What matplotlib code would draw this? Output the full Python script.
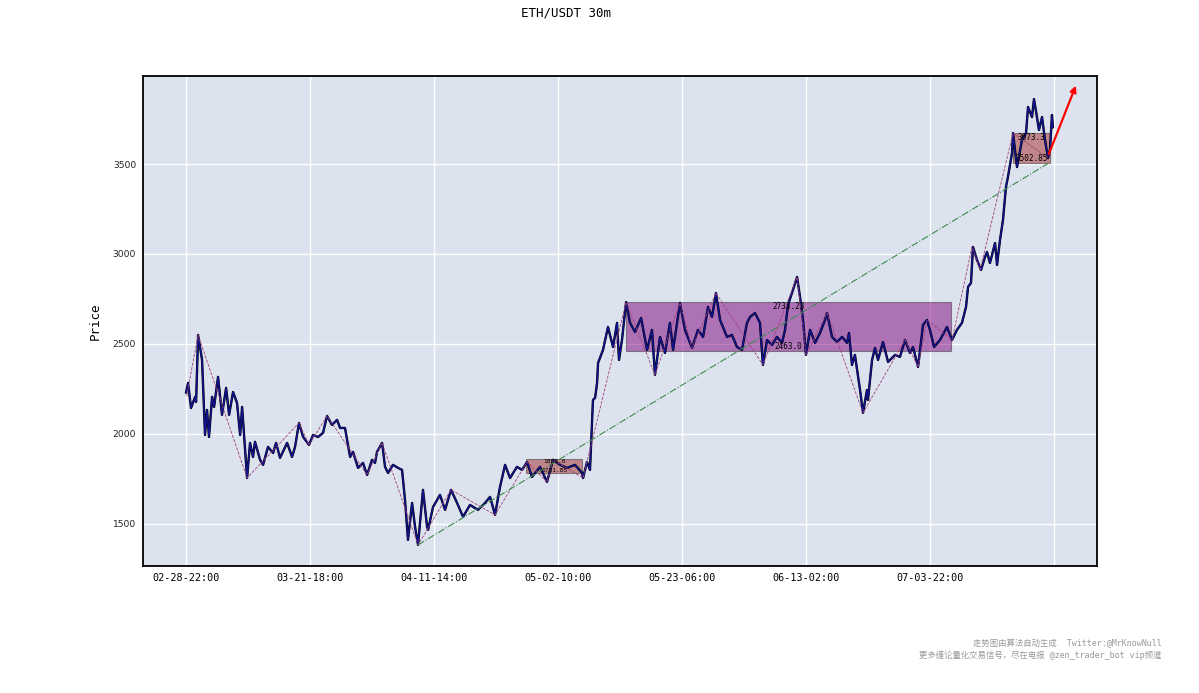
import numpy as np
import matplotlib
matplotlib.use("Agg")
import matplotlib.pyplot as plt
from matplotlib.patches import Rectangle

# 30m bars, x = bar index
bar_idx = [0, 16, 40, 73, 81, 97, 129, 153, 169, 185, 210, 226, 258, 290, 323, 347, 379, 411,
           436, 452, 492, 516, 540, 556, 597, 621, 661, 702, 726, 758, 815, 855, 879, 911,
           944, 992, 1024, 1065, 1105, 1137, 1177, 1218, 1242, 1282, 1323, 1347, 1387,
           1427, 1460, 1500, 1524, 1540, 1581, 1605, 1629, 1669, 1710, 1742, 1766, 1790,
           1823, 1847, 1871, 1911, 1944, 1952, 1992, 2048, 2089, 2137, 2186, 2234, 2290,
           2355, 2411, 2452, 2492, 2532, 2573, 2613, 2669, 2710, 2750, 2790, 2855, 2911,
           2960, 3016, 3073, 3137, 3194, 3202, 3234, 3258, 3282, 3299, 3315, 3323, 3363,
           3403, 3444, 3476, 3492, 3516, 3549, 3581, 3621, 3670, 3718, 3758, 3782, 3823,
           3863, 3903, 3928, 3984, 4024, 4081, 4129, 4170, 4210, 4242, 4274, 4307, 4363,
           4403, 4444, 4484, 4524, 4549, 4589, 4629, 4653, 4686, 4726, 4766, 4807, 4831,
           4855, 4895, 4928, 4952, 4976, 5000, 5033, 5073, 5113, 5153, 5170, 5210, 5250,
           5291, 5331, 5347, 5371, 5395, 5436, 5460, 5492, 5500, 5533, 5557, 5581, 5621,
           5662, 5718, 5758, 5799, 5839, 5863, 5904, 5944, 5976, 6000, 6033, 6081, 6137,
           6178, 6218, 6258, 6291, 6307, 6331, 6347, 6379, 6412, 6444, 6460, 6484, 6525,
           6541, 6565, 6589, 6613, 6629, 6662, 6670, 6702, 6742, 6775, 6791, 6823, 6839,
           6863, 6879, 6904, 6928, 6952, 6968, 6984, 6992]
close = [2230, 2283, 2144, 2206, 2178, 2550, 2411, 1994, 2133, 1983, 2206, 2150, 2317, 2106,
         2256, 2106, 2233, 2172, 1994, 2150, 1755, 1950, 1872, 1956, 1856, 1828, 1928, 1894,
         1950, 1867, 1950, 1872, 1928, 2061, 1983, 1939, 1994, 1983, 2006, 2100, 2050, 2078,
         2033, 2033, 1872, 1900, 1811, 1839, 1772, 1856, 1839, 1900, 1950, 1817, 1783, 1828,
         1811, 1800, 1633, 1411, 1616, 1483, 1383, 1689, 1483, 1467, 1594, 1661, 1578, 1689,
         1616, 1539, 1605, 1578, 1616, 1650, 1550, 1705, 1828, 1755, 1817, 1800, 1844, 1761,
         1817, 1733, 1856, 1828, 1811, 1828, 1783, 1755, 1844, 1800, 2189, 2200, 2283, 2394,
         2467, 2594, 2483, 2617, 2411, 2522, 2733, 2617, 2567, 2644, 2467, 2578, 2328, 2539,
         2450, 2617, 2467, 2728, 2578, 2478, 2578, 2539, 2706, 2650, 2783, 2633, 2539, 2550,
         2483, 2467, 2617, 2650, 2672, 2617, 2383, 2522, 2494, 2539, 2506, 2578, 2717, 2800,
         2872, 2761, 2633, 2439, 2578, 2506, 2561, 2633, 2672, 2539, 2511, 2539, 2506, 2561,
         2383, 2439, 2244, 2117, 2244, 2189, 2411, 2478, 2411, 2511, 2400, 2439, 2428, 2522,
         2450, 2483, 2372, 2606, 2633, 2578, 2483, 2522, 2594, 2522, 2578, 2617, 2706, 2817,
         2839, 3039, 2967, 2911, 2983, 3011, 2950, 3061, 2939, 3078, 3189, 3372, 3428, 3561,
         3672, 3483, 3633, 3672, 3817, 3761, 3861, 3761, 3689, 3761, 3633, 3533, 3578, 3772,
         3705]

# strokes (bi)
bi_idx = [5, 97, 492, 911, 992, 1137, 1460, 1581, 1871, 2137, 2492, 2750, 2911, 2960, 3202,
          3549, 3782, 3984, 4081, 4274, 4653, 4928, 5000, 5170, 5460, 5799, 5904, 5976, 6178,
          6339, 6404, 6670, 6952]
bi_price = [2210, 2550, 1755, 2061, 1939, 2100, 1772, 1950, 1383, 1689, 1550, 1844, 1733,
            1856, 1755, 2733, 2328, 2728, 2478, 2783, 2383, 2872, 2439, 2672, 2117, 2522,
            2372, 2633, 2522, 3039, 2911, 3672, 3533]

# segment (xd)
xd_idx = [1871, 6952]
xd_price = [1383, 3502.85]

# pivots (zhongshu): start, end, low, high
zs_start = [2742, 3549, 6670]
zs_end = [3194, 6169, 6968]
zs_low = [1781.85, 2463.0, 3502.85]
zs_high = [1858.0, 2733.23, 3673.3]
zs_color = ["brown", "purple", "brown"]

# predicted move
arrow_from = (6950, 3540)
arrow_to = (7185, 3950)

tick_pos = [0, 1000, 2000, 3000, 4000, 5000, 6000, 7000]
tick_labels = ["02-28-22:00", "03-21-18:00", "04-11-14:00", "05-02-10:00",
               "05-23-06:00", "06-13-02:00", "07-03-22:00", ""]
y_ticks = [1500, 2000, 2500, 3000, 3500]

mono = ["DejaVu Sans Mono", "Noto Sans CJK SC"]

fig = plt.figure(figsize=(11.99, 6.93), dpi=100)
ax = fig.add_axes([0.1193, 0.1833, 0.7956, 0.7070])
ax.set_facecolor("#dce3ee")
for s in ax.spines.values():
    s.set_linewidth(1.4)
    s.set_color("#111111")

ax.grid(True, color="white", linewidth=1.0)
ax.set_axisbelow(True)

ax.plot(bar_idx, close, color="black", linewidth=1.7, zorder=3)
ax.plot(bar_idx, close, color="#12128c", linewidth=1.1, zorder=4)
ax.plot(bi_idx, bi_price, color="#a0407a", linestyle="--", linewidth=0.6, zorder=5)
ax.plot(xd_idx, xd_price, color="#3c8a4a", linestyle="-.", linewidth=0.8, zorder=5)

for x0, x1, lo, hi, c in zip(zs_start, zs_end, zs_low, zs_high, zs_color):
    ax.add_patch(Rectangle((x0, lo), x1 - x0, hi - lo, facecolor=c, alpha=0.5,
                           edgecolor="#333333", linewidth=0.8, zorder=2))
    xm = (x0 + x1) / 2
    fs = 4.5 if hi - lo < 100 else 5.5
    ax.text(xm, hi, str(hi), fontsize=fs, family=mono, ha="center", va="top", zorder=6)
    ax.text(xm, lo, str(lo), fontsize=fs, family=mono, ha="center", va="bottom", zorder=6)

ax.annotate("", xy=arrow_to, xytext=arrow_from,
            arrowprops=dict(arrowstyle="-|>", color="red", lw=1.6, mutation_scale=9), zorder=7)

ax.set_xlim(-347, 7347)
ax.set_ylim(1266, 3989)
ax.set_xticks(tick_pos)
ax.set_xticklabels(tick_labels, family=mono, fontsize=7.3)
ax.set_yticks(y_ticks)
ax.set_yticklabels([str(v) for v in y_ticks], fontsize=6.6, color="#222222")
ax.tick_params(length=0, pad=5)
ax.set_ylabel("Price", family=mono, fontsize=9, labelpad=8)

fig.text(0.472, 0.99, "ETH/USDT 30m", family=mono, fontsize=9, ha="center", va="top")

fig.text(0.969, 0.072, "走势图由算法自动生成  Twitter:@MrKnowNull",
         family=mono, fontsize=6, color="#999999", ha="right", va="center")
fig.text(0.969, 0.054, "更多缠论量化交易信号，尽在电报 @zen_trader_bot vip频道",
         family=mono, fontsize=6, color="#999999", ha="right", va="center")

fig.savefig("out.png", dpi=100)
